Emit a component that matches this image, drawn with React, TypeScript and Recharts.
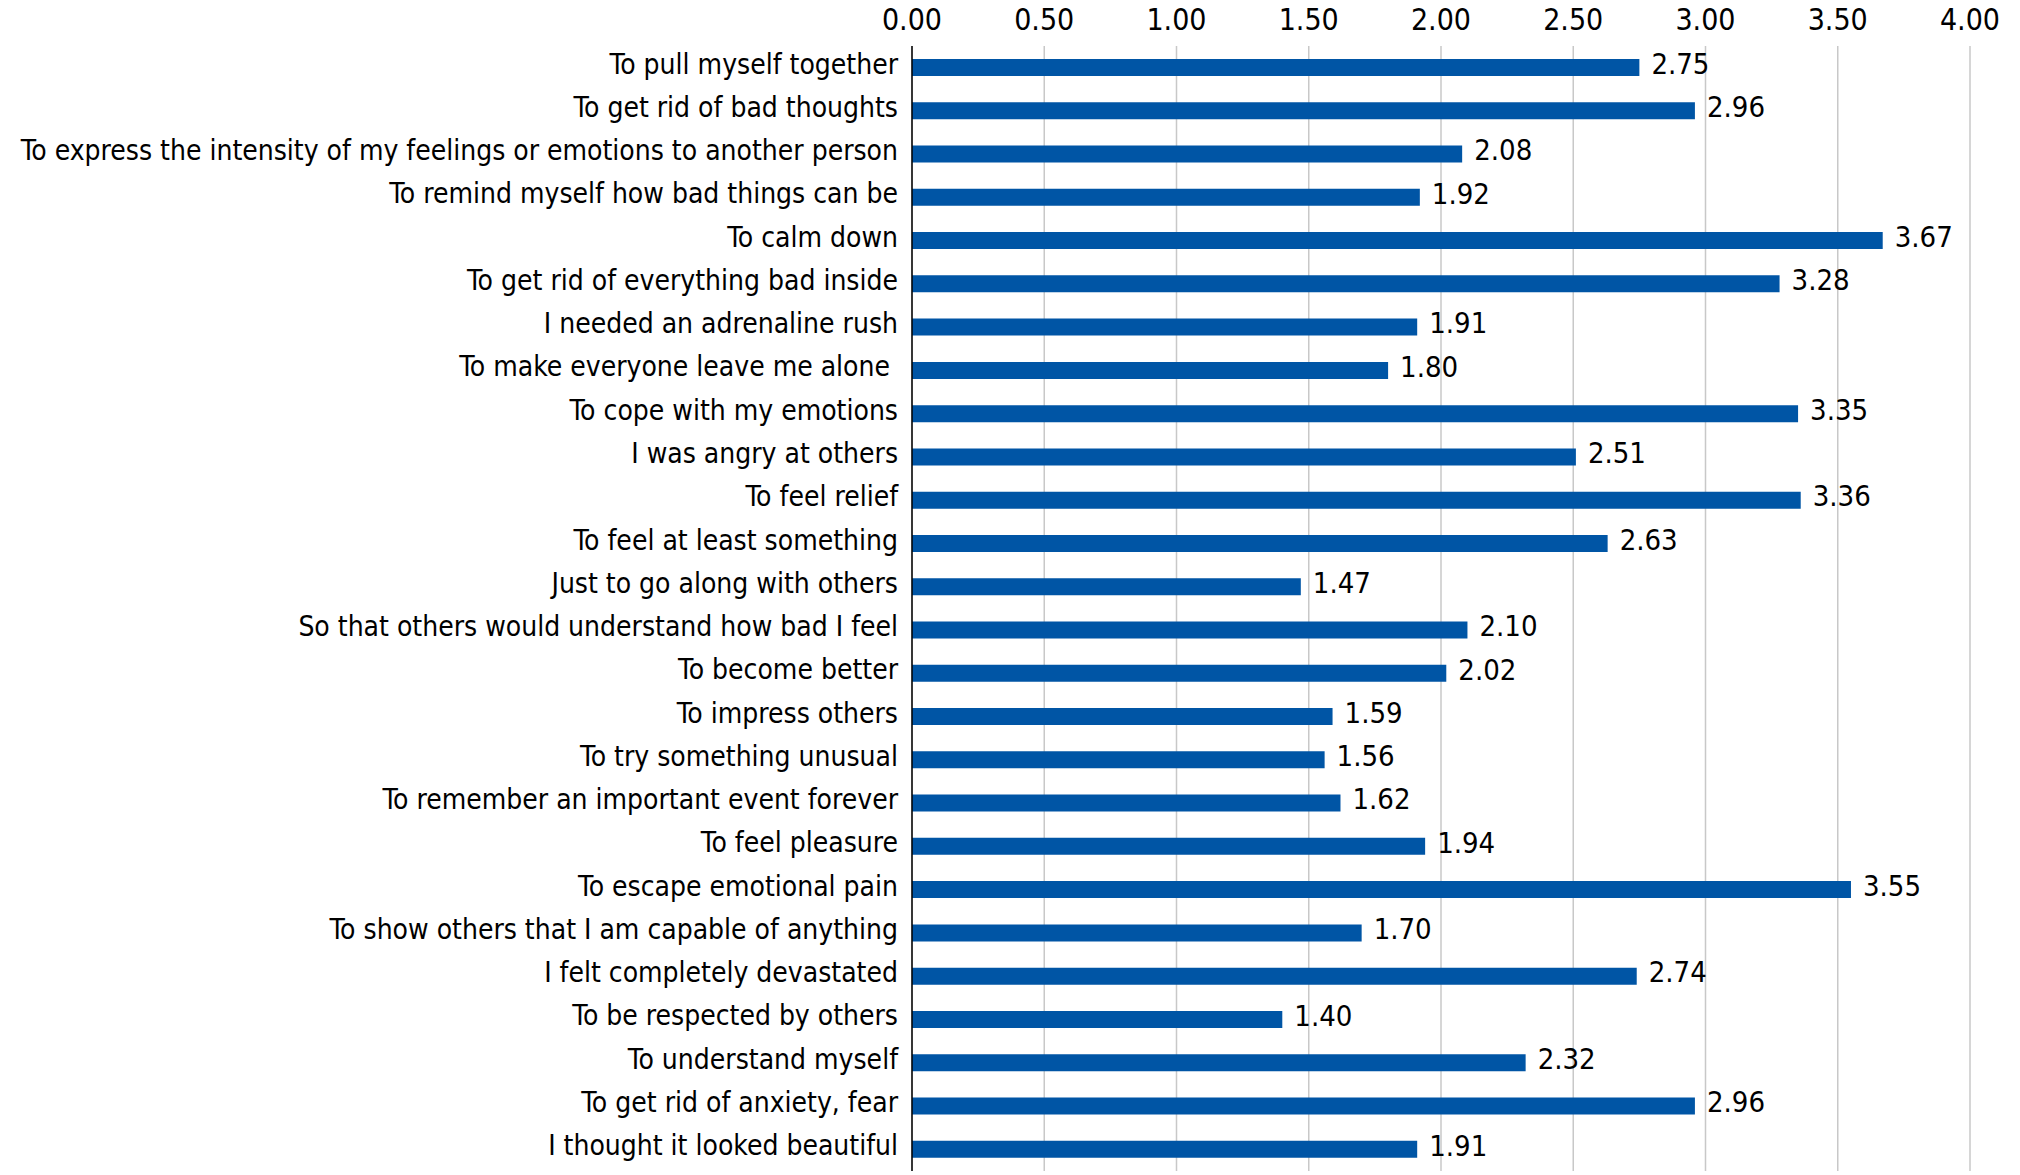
import { BarChart, Bar, XAxis, YAxis, CartesianGrid, LabelList } from "recharts";

const reasons = [
    "To pull myself together",
    "To get rid of bad thoughts",
    "To express the intensity of my feelings or emotions to another person",
    "To remind myself how bad things can be",
    "To calm down",
    "To get rid of everything bad inside",
    "I needed an adrenaline rush",
    "To make everyone leave me alone\u00a0",
    "To cope with my emotions",
    "I was angry at others",
    "To feel relief",
    "To feel at least something",
    "Just to go along with others",
    "So that others would understand how bad I feel",
    "To become better",
    "To impress others",
    "To try something unusual",
    "To remember an important event forever",
    "To feel pleasure",
    "To escape emotional pain",
    "To show others that I am capable of anything",
    "I felt completely devastated",
    "To be respected by others",
    "To understand myself",
    "To get rid of anxiety, fear",
    "I thought it looked beautiful",
];

const scores = [
    2.75, 2.96, 2.08, 1.92, 3.67, 3.28, 1.91, 1.8, 3.35, 2.51, 3.36, 2.63, 1.47,
    2.1, 2.02, 1.59, 1.56, 1.62, 1.94, 3.55, 1.7, 2.74, 1.4, 2.32, 2.96, 1.91,
];

const xTicks = [0, 0.5, 1, 1.5, 2, 2.5, 3, 3.5, 4];

const FONT = "'DejaVu Sans Condensed', 'Liberation Sans Narrow', sans-serif";

export default function App() {
    const data = reasons.map((reason, i) => ({ reason, score: scores[i] }));

    return (
        <div style={{ position: "absolute", left: 0, top: 0, background: "#fff", fontFamily: FONT }}>
            <BarChart
                width={2020}
                height={1175}
                data={data}
                layout="vertical"
                margin={{ top: 0, right: 50, left: 0, bottom: 4 }}
            >
                <CartesianGrid horizontal={false} stroke="#c8c8c8" strokeWidth={1.5} />
                <XAxis
                    type="number"
                    orientation="top"
                    domain={[0, 4]}
                    ticks={xTicks}
                    tickFormatter={(v: number) => v.toFixed(2)}
                    axisLine={false}
                    tickLine={false}
                    height={46}
                    tick={{ fontSize: 30, fill: "#000", fontFamily: FONT, dy: -8 }}
                />
                <YAxis
                    type="category"
                    dataKey="reason"
                    width={912}
                    interval={0}
                    tickLine={false}
                    tickSize={0}
                    tickMargin={14}
                    axisLine={{ stroke: "#000", strokeWidth: 1.5 }}
                    tick={{ fontSize: 28, fill: "#000", fontFamily: FONT, dy: -4 }}
                />
                <Bar dataKey="score" fill="#0055a5" barSize={17} isAnimationActive={false}>
                    <LabelList
                        dataKey="score"
                        position="right"
                        offset={12}
                        dy={-4}
                        formatter={(v: number) => v.toFixed(2)}
                        style={{ fontSize: 29, fill: "#000", fontFamily: FONT }}
                    />
                </Bar>
            </BarChart>
        </div>
    );
}
